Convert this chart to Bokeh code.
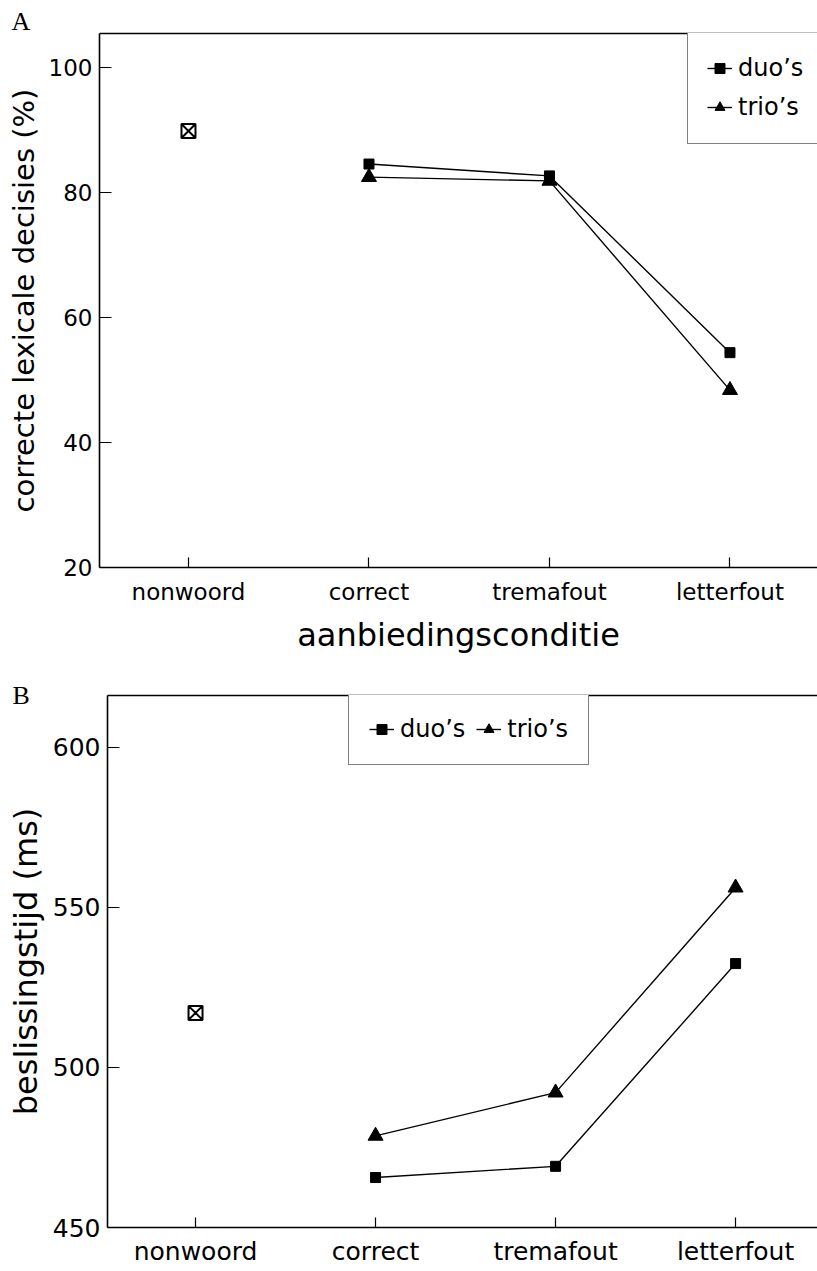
from bokeh.plotting import figure
from bokeh.models import Range1d, FixedTicker, Legend, LegendItem, LinearAxis
from bokeh.embed import file_html
from bokeh.resources import INLINE

# ---------------- data ----------------
categories = ["nonwoord", "correct", "tremafout", "letterfout"]
word_conditions = ["correct", "tremafout", "letterfout"]
series_labels = ["duo’s", "trio’s"]

a_nonword = [89.9]
a_duo = [84.6, 82.7, 54.4]
a_trio = [82.5, 81.9, 48.4]
a_yticks = [20, 40, 60, 80, 100]
a_ylabel = "correcte lexicale decisies (%)"
a_xlabel = "aanbiedingsconditie"

b_nonword = [517.0]
b_duo = [465.6, 469.1, 532.4]
b_trio = [478.6, 492.1, 556.1]
b_yticks = [450, 500, 550, 600]
b_ylabel = "beslissingstijd (ms)"

FONT = "DejaVu Sans"
SERIF = "Liberation Serif"


def make_panel(letter, letter_offset, letter_standoff, nonword, duo, trio, yticks,
               yrange, xrange, ylabel, xlabel, height, border_left, border_top,
               border_bottom, tick_fs, ylab_fs, xlab_fs, x_standoff, legend_loc,
               legend_orient):
    p = figure(width=817, height=height, output_backend="svg", toolbar_location=None,
               x_range=Range1d(*xrange), y_range=Range1d(*yrange),
               min_border_left=border_left, min_border_right=0,
               min_border_top=border_top, min_border_bottom=border_bottom)
    p.outline_line_color = None
    p.grid.visible = False
    p.background_fill_color = "white"
    p.border_fill_color = "white"

    # panel letter
    p.title.text = letter
    p.title.align = "left"
    p.title.offset = letter_offset
    p.title.standoff = letter_standoff
    p.title.text_font = SERIF
    p.title.text_font_style = "normal"
    p.title.text_font_size = "26px"
    p.title.text_color = "black"

    xpos = {c: i for i, c in enumerate(categories)}
    wx = [xpos[c] for c in word_conditions]

    xa = p.xaxis[0]
    xa.ticker = FixedTicker(ticks=list(range(len(categories))))
    xa.major_label_overrides = {i: c for i, c in enumerate(categories)}
    xa.major_tick_in = 10
    xa.major_tick_out = 0
    xa.minor_tick_line_color = None
    xa.axis_line_width = 1.6
    xa.major_tick_line_width = 1.2
    xa.major_label_text_font = FONT
    xa.major_label_text_font_size = f"{tick_fs}px"
    xa.major_label_text_color = "black"
    xa.major_label_standoff = x_standoff
    if xlabel:
        xa.axis_label = xlabel
        xa.axis_label_text_font = FONT
        xa.axis_label_text_font_size = f"{xlab_fs}px"
        xa.axis_label_text_font_style = "normal"
        xa.axis_label_text_color = "black"
        xa.axis_label_standoff = 8

    ya = p.yaxis[0]
    ya.ticker = FixedTicker(ticks=yticks)
    ya.major_tick_in = 12
    ya.major_tick_out = 0
    ya.minor_tick_line_color = None
    ya.axis_line_width = 1.6
    ya.major_tick_line_width = 1.2
    ya.major_label_text_font = FONT
    ya.major_label_text_font_size = f"{tick_fs}px"
    ya.major_label_text_color = "black"
    ya.major_label_standoff = 7
    ya.axis_label = ylabel
    ya.axis_label_text_font = FONT
    ya.axis_label_text_font_size = f"{ylab_fs}px"
    ya.axis_label_text_font_style = "normal"
    ya.axis_label_text_color = "black"
    ya.axis_label_standoff = 5

    top = LinearAxis(ticker=FixedTicker(ticks=[]), major_label_text_font_size="0px",
                     major_tick_line_color=None, minor_tick_line_color=None,
                     major_tick_out=0, major_tick_in=0, major_label_standoff=0,
                     axis_line_width=1.6)
    p.add_layout(top, "above")

    p.scatter([xpos["nonwoord"]], nonword, marker="square_x", size=14,
              fill_color="white", line_color="black", line_width=2)
    l1 = p.line(wx, duo, line_color="black", line_width=1.4)
    s1 = p.scatter(wx, duo, marker="square", size=10, fill_color="black", line_color="black")
    l2 = p.line(wx, trio, line_color="black", line_width=1.4)
    s2 = p.scatter(wx, trio, marker="triangle", size=15, fill_color="black", line_color="black")

    legend = Legend(items=[LegendItem(label=series_labels[0], renderers=[l1, s1]),
                           LegendItem(label=series_labels[1], renderers=[l2, s2])],
                    location=legend_loc, orientation=legend_orient)
    legend.label_text_font = FONT
    legend.label_text_font_size = "24px"
    legend.label_text_color = "black"
    legend.border_line_color = "black"
    legend.border_line_width = 1.5
    legend.background_fill_color = "white"
    legend.background_fill_alpha = 1.0
    legend.glyph_width = 25
    legend.label_standoff = 6
    legend.margin = 0
    if legend_orient == "vertical":
        legend.padding = 19
        legend.spacing = 5
        legend.glyph_height = 34
        legend.label_height = 34
        legend.label_width = 100
    else:
        legend.padding = 20
        legend.spacing = 11
        legend.glyph_height = 30
        legend.label_height = 30
    p.add_layout(legend, "center")
    return p


pA = make_panel("A", -88, -4, a_nonword, a_duo, a_trio, a_yticks, (20, 105.5),
                (-0.493, 3.485), a_ylabel, a_xlabel, height=660, border_left=99,
                border_top=33, border_bottom=93, tick_fs=23, ylab_fs=29, xlab_fs=32,
                x_standoff=11, legend_loc=(588, 423), legend_orient="vertical")

pB = make_panel("B", -95, -28, b_nonword, b_duo, b_trio, b_yticks, (450, 616.1),
                (-0.489, 3.455), b_ylabel, None, height=610, border_left=107,
                border_top=35, border_bottom=43, tick_fs=25, ylab_fs=32, xlab_fs=32,
                x_standoff=9, legend_loc=(241, 462), legend_orient="horizontal")

open("out.html", "w").write(file_html([pA, pB], INLINE))
